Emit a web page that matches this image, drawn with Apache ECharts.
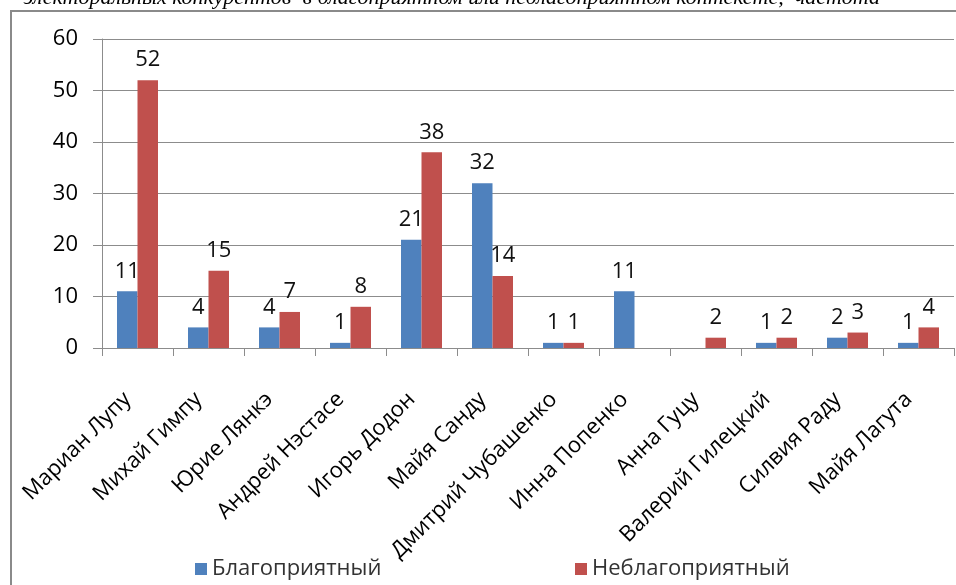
<!DOCTYPE html>
<html>
<head>
<meta charset="utf-8">
<script src="https://cdn.jsdelivr.net/npm/echarts@6/dist/echarts.min.js"></script>
<style>
  html, body { margin: 0; padding: 0; background: #fff; }
  #chart { width: 956px; height: 585px; }
</style>
</head>
<body>
<div id="chart"></div>
<script>
const candidates = [
  'Мариан Лупу', 'Михай Гимпу', 'Юрие Лянкэ', 'Андрей Нэстасе', 'Игорь Додон',
  'Майя Санду', 'Дмитрий Чубашенко', 'Инна Попенко', 'Анна Гуцу',
  'Валерий Гилецкий', 'Силвия Раду', 'Майя Лагута'
]
const favourable = [11, 4, 4, 1, 21, 32, 1, 11, null, 1, 2, 1]
const unfavourable = [52, 15, 7, 8, 38, 14, 1, null, 2, 2, 3, 4]
const seriesNames = ['Благоприятный', 'Неблагоприятный']
const yTicks = { min: 0, max: 60, interval: 10 }

const font = '"Open Sans", sans-serif'
const gridColor = '#8c8c8c'

const chart = echarts.init(document.getElementById('chart'))

function barSeries(name, data, color) {
  return {
    name,
    type: 'bar',
    data,
    barWidth: 20.5,
    barGap: '0%',
    itemStyle: { color },
    label: {
      show: true,
      position: 'top',
      distance: 9,
      color: '#111',
      fontFamily: font,
      fontSize: 22
    }
  }
}

function legendFor(name, left) {
  return {
    left,
    bottom: 0,
    itemWidth: 12,
    itemHeight: 12,
    itemGap: 0,
    icon: 'rect',
    textStyle: { color: '#333', fontSize: 22, fontFamily: font },
    data: [name]
  }
}

chart.setOption({
  animation: false,
  backgroundColor: '#fff',
  textStyle: { fontFamily: font },
  graphic: [
    {
      type: 'rect',
      shape: { x: 11, y: 11, width: 960, height: 600 },
      style: { fill: 'none', stroke: '#8a8a8a', lineWidth: 2 },
      silent: true
    },
    {
      type: 'text',
      right: 76,
      top: -13,
      style: {
        text: 'электоральных конкурентов  в благоприятном или неблагоприятном контексте,  частота',
        font: 'italic 22px "Liberation Serif", serif',
        fill: '#000'
      }
    }
  ],
  grid: { left: 102, right: 2, top: 39, bottom: 237 },
  legend: [legendFor(seriesNames[0], 190), legendFor(seriesNames[1], 570)],
  xAxis: {
    type: 'category',
    data: candidates,
    axisLine: { lineStyle: { color: gridColor } },
    axisTick: { show: true, length: 8, lineStyle: { color: gridColor } },
    axisLabel: {
      interval: 0,
      rotate: 45,
      color: '#000',
      fontSize: 22,
      fontFamily: font,
      margin: 38,
      padding: [0, 14, 0, 0]
    }
  },
  yAxis: {
    type: 'value',
    min: yTicks.min,
    max: yTicks.max,
    interval: yTicks.interval,
    axisLine: { show: true, lineStyle: { color: gridColor } },
    axisTick: { show: true, length: 9, lineStyle: { color: gridColor } },
    splitLine: { lineStyle: { color: gridColor } },
    axisLabel: { color: '#000', fontSize: 22, fontFamily: font, margin: 24 }
  },
  series: [
    barSeries(seriesNames[0], favourable, '#4f81bd'),
    barSeries(seriesNames[1], unfavourable, '#c0504d')
  ]
})
</script>
</body>
</html>
